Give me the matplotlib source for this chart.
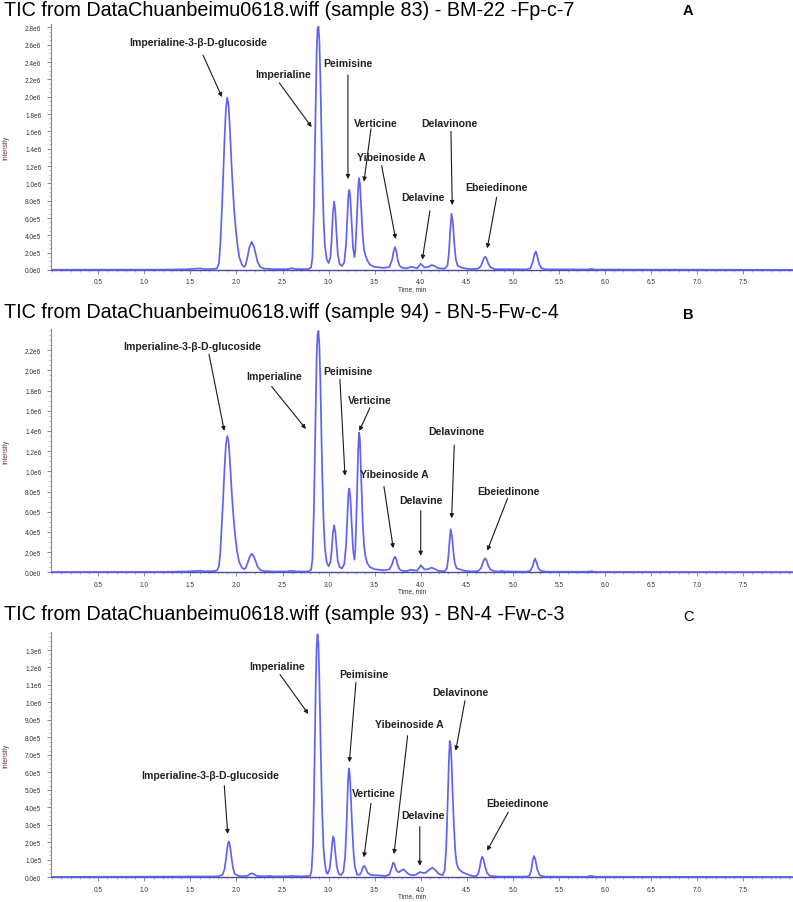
import math
import matplotlib
matplotlib.use("Agg")
import matplotlib.pyplot as plt
from matplotlib.ticker import MultipleLocator, FixedLocator, FuncFormatter

# ---------------- data (intensity in units of 1e5 counts) ----------------
time_A = [0.00, 1.20, 1.45, 1.55, 1.60, 1.66, 1.76, 1.79, 1.81, 1.825, 1.84, 1.855, 1.87, 1.885, 1.90,
          1.915, 1.93, 1.945, 1.96, 1.975, 1.99, 2.01, 2.03, 2.06, 2.085, 2.10, 2.12, 2.14, 2.165, 2.19,
          2.21, 2.23, 2.26, 2.30, 2.40, 2.55, 2.60, 2.65, 2.78, 2.81, 2.825, 2.84, 2.85, 2.86, 2.87,
          2.88, 2.89, 2.90, 2.91, 2.92, 2.93, 2.945, 2.96, 2.98, 3.00, 3.02, 3.033, 3.047, 3.06, 3.073,
          3.087, 3.10, 3.12, 3.145, 3.17, 3.19, 3.205, 3.215, 3.225, 3.235, 3.25, 3.265, 3.28, 3.29, 3.305,
          3.32, 3.33, 3.34, 3.355, 3.37, 3.385, 3.40, 3.42, 3.45, 3.50, 3.60, 3.66, 3.69, 3.705, 3.72,
          3.735, 3.75, 3.77, 3.80, 3.85, 3.89, 3.93, 3.96, 3.985, 4.00, 4.015, 4.04, 4.08, 4.12, 4.15,
          4.19, 4.26, 4.29, 4.305, 4.32, 4.335, 4.35, 4.365, 4.38, 4.40, 4.44, 4.47, 4.55, 4.62, 4.65,
          4.67, 4.685, 4.70, 4.715, 4.735, 4.76, 4.80, 5.15, 5.19, 5.215, 5.235, 5.25, 5.265, 5.285, 5.31,
          5.36, 5.80, 5.85, 5.90, 8.03]
int_A = [0.03, 0.04, 0.08, 0.15, 0.18, 0.10, 0.12, 0.2, 0.8, 3.0, 6.5, 10.5, 15.0, 18.5, 19.9,
         19.0, 16.0, 12.5, 9.5, 7.0, 5.0, 3.0, 1.5, 0.6, 0.35, 0.6, 1.5, 2.6, 3.25, 2.7,
         1.8, 0.9, 0.35, 0.15, 0.1, 0.1, 0.2, 0.1, 0.1, 0.3, 1.5, 7.0, 13.0, 19.5, 25.0,
         27.8, 28.1, 26.5, 22.5, 17.0, 12.0, 6.0, 2.8, 1.2, 0.8, 1.5, 3.5, 6.5, 7.9, 6.8,
         4.0, 1.8, 0.7, 0.45, 0.9, 3.0, 6.5, 8.7, 9.25, 8.5, 5.5, 2.6, 1.5, 2.2, 5.5,
         9.3, 10.6, 10.0, 7.0, 4.0, 2.3, 1.7, 1.1, 0.6, 0.35, 0.25, 0.35, 1.2, 2.1, 2.65,
         2.2, 1.2, 0.5, 0.25, 0.2, 0.35, 0.3, 0.2, 0.5, 0.73, 0.55, 0.3, 0.35, 0.58, 0.45,
         0.2, 0.15, 0.5, 1.8, 4.5, 6.5, 5.4, 3.0, 1.3, 0.5, 0.3, 0.2, 0.1, 0.15, 0.4,
         0.9, 1.35, 1.53, 1.3, 0.7, 0.3, 0.1, 0.08, 0.2, 0.9, 1.8, 2.15, 1.6, 0.7, 0.2,
         0.08, 0.06, 0.12, 0.05, 0.02]

time_B = [0.00, 1.20, 1.45, 1.55, 1.60, 1.66, 1.76, 1.79, 1.81, 1.825, 1.84, 1.855, 1.87, 1.885, 1.90,
          1.915, 1.93, 1.945, 1.96, 1.975, 1.99, 2.01, 2.03, 2.06, 2.085, 2.10, 2.12, 2.14, 2.165, 2.19,
          2.21, 2.23, 2.26, 2.30, 2.40, 2.55, 2.60, 2.65, 2.78, 2.81, 2.825, 2.84, 2.85, 2.86, 2.87,
          2.88, 2.89, 2.90, 2.91, 2.92, 2.93, 2.945, 2.96, 2.98, 3.00, 3.02, 3.033, 3.047, 3.06, 3.073,
          3.087, 3.10, 3.12, 3.145, 3.17, 3.19, 3.205, 3.215, 3.225, 3.235, 3.25, 3.265, 3.28, 3.29, 3.305,
          3.32, 3.33, 3.34, 3.355, 3.37, 3.385, 3.40, 3.42, 3.45, 3.50, 3.60, 3.66, 3.69, 3.705, 3.72,
          3.735, 3.75, 3.77, 3.80, 3.85, 3.89, 3.93, 3.96, 3.985, 4.00, 4.015, 4.04, 4.08, 4.115, 4.15,
          4.19, 4.26, 4.285, 4.30, 4.313, 4.325, 4.34, 4.355, 4.37, 4.39, 4.44, 4.47, 4.55, 4.62, 4.65,
          4.67, 4.685, 4.70, 4.715, 4.735, 4.76, 4.80, 4.86, 4.88, 4.90, 5.15, 5.19, 5.215, 5.23, 5.24,
          5.255, 5.275, 5.30, 5.36, 5.80, 5.85, 5.90, 8.03]
int_B = [0.03, 0.04, 0.08, 0.13, 0.15, 0.10, 0.12, 0.2, 0.6, 2.0, 4.5, 7.2, 10.2, 12.6, 13.5,
         12.9, 10.9, 8.5, 6.4, 4.7, 3.3, 1.9, 1.0, 0.45, 0.3, 0.45, 0.9, 1.45, 1.85, 1.55,
         1.05, 0.55, 0.22, 0.12, 0.08, 0.08, 0.15, 0.08, 0.08, 0.25, 1.3, 6.0, 11.0, 16.5, 21.2,
         23.6, 23.9, 22.5, 19.2, 14.5, 10.2, 5.2, 2.4, 1.0, 0.6, 1.0, 2.1, 3.9, 4.66, 4.0,
         2.4, 1.1, 0.5, 0.38, 0.8, 2.7, 5.8, 7.8, 8.3, 7.6, 5.0, 2.3, 1.25, 2.2, 6.5,
         11.8, 13.85, 13.2, 9.2, 5.0, 2.6, 1.6, 0.9, 0.5, 0.3, 0.2, 0.3, 0.8, 1.3, 1.55,
         1.3, 0.7, 0.3, 0.15, 0.12, 0.25, 0.2, 0.15, 0.45, 0.69, 0.55, 0.28, 0.3, 0.46, 0.35,
         0.15, 0.1, 0.4, 1.5, 3.1, 4.26, 3.5, 2.0, 0.9, 0.4, 0.25, 0.15, 0.08, 0.12, 0.35,
         0.8, 1.2, 1.39, 1.15, 0.6, 0.25, 0.1, 0.08, 0.15, 0.08, 0.06, 0.15, 0.6, 1.1, 1.36,
         1.05, 0.45, 0.15, 0.06, 0.05, 0.1, 0.04, 0.02]

time_C = [0.00, 1.50, 1.80, 1.85, 1.87, 1.885, 1.90, 1.91, 1.92, 1.93, 1.945, 1.96, 1.98, 2.03, 2.12,
          2.15, 2.17, 2.19, 2.22, 2.30, 2.36, 2.40, 2.56, 2.60, 2.70, 2.80, 2.815, 2.83, 2.84, 2.85,
          2.86, 2.87, 2.88, 2.89, 2.90, 2.915, 2.93, 2.945, 2.96, 2.975, 2.99, 3.01, 3.025, 3.04, 3.05,
          3.06, 3.075, 3.09, 3.11, 3.135, 3.16, 3.18, 3.195, 3.21, 3.22, 3.23, 3.24, 3.255, 3.27, 3.285,
          3.31, 3.34, 3.36, 3.375, 3.39, 3.405, 3.425, 3.46, 3.55, 3.62, 3.66, 3.685, 3.70, 3.715, 3.735,
          3.76, 3.785, 3.815, 3.84, 3.87, 3.91, 3.95, 3.975, 3.995, 4.02, 4.05, 4.09, 4.125, 4.16, 4.20,
          4.24, 4.26, 4.275, 4.285, 4.295, 4.305, 4.315, 4.325, 4.335, 4.345, 4.36, 4.375, 4.39, 4.41, 4.45,
          4.50, 4.56, 4.60, 4.625, 4.64, 4.655, 4.667, 4.68, 4.70, 4.72, 4.75, 4.85, 5.15, 5.18, 5.20,
          5.215, 5.23, 5.245, 5.265, 5.29, 5.35, 5.80, 5.85, 5.90, 8.03]
int_C = [0.02, 0.04, 0.05, 0.15, 0.45, 1.0, 1.65, 1.98, 2.04, 1.8, 1.2, 0.6, 0.2, 0.06, 0.08,
         0.2, 0.23, 0.18, 0.08, 0.05, 0.08, 0.05, 0.06, 0.08, 0.05, 0.08, 0.4, 1.8, 4.2, 7.5,
         10.8, 13.2, 13.9, 13.3, 11.3, 7.2, 3.8, 1.7, 0.75, 0.3, 0.2, 0.45, 1.1, 2.0, 2.33,
         2.15, 1.3, 0.6, 0.2, 0.12, 0.3, 1.2, 3.0, 5.4, 6.22, 5.9, 4.8, 3.0, 1.5, 0.6,
         0.15, 0.15, 0.35, 0.6, 0.65, 0.5, 0.25, 0.13, 0.1, 0.08, 0.15, 0.55, 0.84, 0.75, 0.4,
         0.28, 0.38, 0.46, 0.32, 0.17, 0.12, 0.15, 0.25, 0.3, 0.25, 0.25, 0.42, 0.55, 0.4, 0.18,
         0.12, 0.4, 1.5, 3.0, 4.8, 6.5, 7.8, 7.6, 6.6, 5.0, 3.0, 1.5, 0.8, 0.5, 0.3,
         0.18, 0.08, 0.06, 0.2, 0.55, 1.0, 1.18, 1.05, 0.6, 0.25, 0.08, 0.04, 0.04, 0.1, 0.4,
         0.95, 1.22, 1.0, 0.45, 0.12, 0.04, 0.03, 0.08, 0.03, 0.02]

compounds = ["Imperialine-3-\u03b2-D-glucoside", "Imperialine", "Peimisine", "Verticine",
             "Yibeinoside A", "Delavine", "Delavinone", "Ebeiedinone"]

titles = ["TIC from DataChuanbeimu0618.wiff (sample 83) - BM-22 -Fp-c-7",
          "TIC from DataChuanbeimu0618.wiff (sample 94) - BN-5-Fw-c-4",
          "TIC from DataChuanbeimu0618.wiff (sample 93) - BN-4 -Fw-c-3"]
panel_letters = ["A", "B", "C"]

# annotation geometry: (label x, label y), (arrow start), (arrow tip); y in 1e5 units
ann_A = [((1.582, 26.3), (1.637, 24.8), (1.843, 19.96)),
         ((2.508, 22.6), (2.465, 21.6), (2.816, 16.5)),
         ((3.214, 23.9), (3.21, 22.5), (3.21, 10.5)),
         ((3.514, 17.0), (3.46, 16.3), (3.384, 10.2)),
         ((3.685, 13.1), (3.576, 12.05), (3.728, 3.58)),
         ((4.021, 8.39), (4.10, 6.84), (4.017, 1.19)),
         ((4.31, 17.0), (4.328, 16.0), (4.342, 7.5)),
         ((4.817, 9.61), (4.824, 8.39), (4.722, 2.5))]
ann_B = [((1.516, 22.4), (1.702, 21.6), (1.868, 14.0)),
         ((2.407, 19.4), (2.382, 18.4), (2.754, 14.2)),
         ((3.207, 19.96), (3.123, 19.1), (3.178, 9.57)),
         ((3.442, 17.06), (3.449, 16.3), (3.333, 14.0)),
         ((3.713, 9.73), (3.601, 8.5), (3.702, 2.38)),
         ((3.999, 7.19), (4.0, 6.1), (4.0, 1.64)),
         ((4.39, 14.0), (4.364, 12.6), (4.336, 5.35)),
         ((4.95, 8.08), (4.943, 7.33), (4.722, 2.14))]
ann_C = [((1.72, 5.85), (1.868, 5.24), (1.905, 2.48)),
         ((2.436, 12.1), (2.472, 11.6), (2.78, 9.34)),
         ((3.384, 11.6), (3.297, 11.15), (3.225, 6.58)),
         ((3.493, 4.8), (3.46, 4.23), (3.384, 1.14)),
         ((3.882, 8.76), (3.858, 8.1), (3.71, 1.33)),
         ((4.021, 3.58), (3.99, 2.9), (3.99, 0.66)),
         ((4.426, 10.6), (4.48, 10.1), (4.38, 7.24)),
         ((5.048, 4.25), (4.95, 3.72), (4.72, 1.52))]

y_top = [28.4, 24.1, 14.03]      # axis top, 1e5 units
y_step = [2.0, 2.0, 1.0]         # major tick step, 1e5 units
y_maxtick = [28.0, 22.0, 13.0]
x_ticks = [0.5, 1.0, 1.5, 2.0, 2.5, 3.0, 3.5, 4.0, 4.5, 5.0, 5.5, 6.0, 6.5, 7.0, 7.5]

# ---------------- figure ----------------
W, H = 793, 903
fig = plt.figure(figsize=(W / 100, H / 100), dpi=100)

def px_rect(x0, top, x1, bottom):
    return [x0 / W, 1 - bottom / H, (x1 - x0) / W, (bottom - top) / H]

rects = [px_rect(51, 25, 792, 271), px_rect(51, 330, 792, 573.3), px_rect(51, 633, 792, 878.3)]
title_y = [10, 313, 614]
letter_y = [11, 315, 617]

traces = [(time_A, int_A), (time_B, int_B), (time_C, int_C)]
anns = [ann_A, ann_B, ann_C]

def sci_fmt(v, pos):
    if abs(v) < 1e-9:
        return "0.0e0"
    e = int(math.floor(math.log10(abs(v)) + 1e-9))
    m = v / 10 ** e
    return f"{m:.1f}e{e}"

TXT = "Liberation Sans"
LINE = "#6262f2"

for k in range(3):
    ax = fig.add_axes(rects[k])
    t, inten = traces[k]
    ax.plot(t, [v * 1e5 for v in inten], color=LINE, lw=1.25, zorder=3, clip_on=False,
            solid_joinstyle="round")
    ax.set_xlim(-0.013, 8.03)
    ax.set_ylim(0, y_top[k] * 1e5)

    for s in ("top", "right"):
        ax.spines[s].set_visible(False)
    ax.spines["left"].set_color("#8a8a8a")
    ax.spines["left"].set_linewidth(0.8)
    ax.spines["bottom"].set_color("#4a4a9a")
    ax.spines["bottom"].set_linewidth(1.0)

    ax.xaxis.set_major_locator(FixedLocator(x_ticks))
    ax.xaxis.set_minor_locator(MultipleLocator(0.1))
    ax.xaxis.set_major_formatter(FuncFormatter(lambda v, p: f"{v:.1f}"))
    n_major = int(round(y_maxtick[k] / y_step[k]))
    ax.yaxis.set_major_locator(FixedLocator([i * y_step[k] * 1e5 for i in range(n_major + 1)]))
    ax.yaxis.set_minor_locator(MultipleLocator(y_step[k] * 1e5 / 4))
    ax.yaxis.set_major_formatter(FuncFormatter(sci_fmt))
    ax.tick_params(axis="both", which="major", length=3, width=0.6, color="#7a7a7a",
                   labelsize=4.7, labelcolor="#333333")
    ax.tick_params(axis="both", which="minor", length=1.6, width=0.5, color="#9a9a9a")
    ax.tick_params(axis="x", which="major", pad=3)
    ax.tick_params(axis="y", which="major", pad=4)
    for lab in ax.get_xticklabels() + ax.get_yticklabels():
        lab.set_fontfamily(TXT)

    for name, (lab, start, tip) in zip(compounds, anns[k]):
        ax.annotate("", xy=(tip[0], tip[1] * 1e5), xytext=(start[0], start[1] * 1e5),
                    arrowprops=dict(arrowstyle="-|>", color="#1a1a1a", lw=0.8,
                                    mutation_scale=6, shrinkA=0, shrinkB=0), zorder=4)
        ax.text(lab[0], lab[1] * 1e5, name, ha="center", va="center", fontsize=7.6,
                fontweight="bold", family=TXT, color="#222222", zorder=5)

    # axis titles
    bottom_px = (1 - rects[k][1]) * H
    fig.text(412 / W, 1 - (bottom_px + 18.5) / H, "Time, min", ha="center", va="center",
             fontsize=4.7, family=TXT, color="#333333")
    mid_px = (1 - rects[k][1] - rects[k][3] / 2) * H
    fig.text(6 / W, 1 - mid_px / H, "Intensity", ha="center", va="center", rotation=90,
             fontsize=4.7, family=TXT, color="#6a3030")

    fig.text(4 / W, 1 - title_y[k] / H, titles[k], ha="left", va="center",
             fontsize=14.2, family=TXT, color="#000000")
    fig.text(688 / W, 1 - letter_y[k] / H, panel_letters[k], ha="center", va="center",
             fontsize=10.5, family=TXT, fontweight="bold" if k < 2 else "normal",
             color="#000000")

fig.savefig("out.png", dpi=100)
